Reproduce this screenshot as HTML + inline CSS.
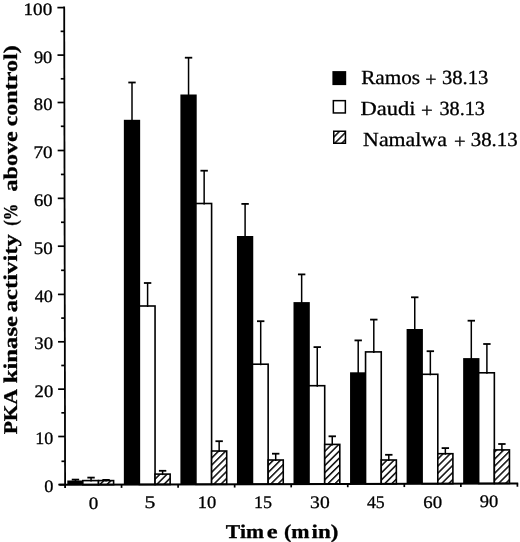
<!DOCTYPE html>
<html><head><meta charset="utf-8"><style>
html,body{margin:0;padding:0;background:#fff;}
svg{display:block;will-change:transform;}
text{font-family:"Liberation Serif",serif;fill:#000;white-space:pre;text-rendering:geometricPrecision;stroke:#000;stroke-width:0.3px;}
.tk{font-size:17.6px;}
.lg{font-size:20px;}
.al{font-size:19.5px;font-weight:bold;}
</style></head><body>
<svg width="520" height="542" viewBox="0 0 520 542">
<defs>
<pattern id="hatch" patternUnits="userSpaceOnUse" width="10" height="5.02" patternTransform="rotate(-45 0 0)">
<rect width="10" height="5.02" fill="#fff"/>
<rect x="0" y="0.9" width="10" height="1.45" fill="#000"/>
</pattern>
</defs>
<rect width="520" height="542" fill="#fff"/>
<rect x="67.30" y="480.50" width="16.30" height="4.22" fill="#000"/>
<rect x="82.80" y="480.60" width="15.70" height="4.08" fill="#fff" stroke="#000" stroke-width="1.6"/>
<rect x="98.50" y="480.60" width="15.10" height="4.03" fill="url(#hatch)" stroke="#000" stroke-width="1.6"/>
<rect x="123.85" y="119.80" width="16.30" height="364.76" fill="#000"/>
<rect x="139.35" y="306.00" width="15.70" height="178.51" fill="#fff" stroke="#000" stroke-width="1.6"/>
<rect x="155.05" y="474.10" width="15.10" height="10.37" fill="url(#hatch)" stroke="#000" stroke-width="1.6"/>
<rect x="180.40" y="94.50" width="16.30" height="389.89" fill="#000"/>
<rect x="195.90" y="203.50" width="15.70" height="280.85" fill="#fff" stroke="#000" stroke-width="1.6"/>
<rect x="211.60" y="451.00" width="15.10" height="33.30" fill="url(#hatch)" stroke="#000" stroke-width="1.6"/>
<rect x="236.95" y="236.00" width="16.30" height="248.23" fill="#000"/>
<rect x="252.45" y="364.20" width="15.70" height="119.98" fill="#fff" stroke="#000" stroke-width="1.6"/>
<rect x="268.15" y="460.00" width="15.10" height="24.14" fill="url(#hatch)" stroke="#000" stroke-width="1.6"/>
<rect x="293.50" y="302.10" width="16.30" height="181.96" fill="#000"/>
<rect x="309.00" y="385.70" width="15.70" height="98.32" fill="#fff" stroke="#000" stroke-width="1.6"/>
<rect x="324.70" y="444.40" width="15.10" height="39.57" fill="url(#hatch)" stroke="#000" stroke-width="1.6"/>
<rect x="350.05" y="372.30" width="16.30" height="111.60" fill="#000"/>
<rect x="365.55" y="351.90" width="15.70" height="131.96" fill="#fff" stroke="#000" stroke-width="1.6"/>
<rect x="381.25" y="460.00" width="15.10" height="23.81" fill="url(#hatch)" stroke="#000" stroke-width="1.6"/>
<rect x="406.60" y="329.00" width="16.30" height="154.74" fill="#000"/>
<rect x="422.10" y="374.30" width="15.70" height="109.39" fill="#fff" stroke="#000" stroke-width="1.6"/>
<rect x="437.80" y="453.70" width="15.10" height="29.95" fill="url(#hatch)" stroke="#000" stroke-width="1.6"/>
<rect x="463.15" y="358.10" width="16.30" height="125.47" fill="#000"/>
<rect x="478.65" y="372.80" width="15.70" height="110.73" fill="#fff" stroke="#000" stroke-width="1.6"/>
<rect x="494.35" y="449.90" width="15.10" height="33.58" fill="url(#hatch)" stroke="#000" stroke-width="1.6"/>
<line x1="75.45" y1="479.60" x2="75.45" y2="481.50" stroke="#000" stroke-width="1.5"/>
<line x1="71.75" y1="479.60" x2="79.15" y2="479.60" stroke="#000" stroke-width="1.8"/>
<line x1="91.05" y1="477.60" x2="91.05" y2="481.60" stroke="#000" stroke-width="1.5"/>
<line x1="87.35" y1="477.60" x2="94.75" y2="477.60" stroke="#000" stroke-width="1.8"/>
<line x1="106.05" y1="479.90" x2="106.05" y2="481.60" stroke="#000" stroke-width="1.5"/>
<line x1="102.35" y1="479.90" x2="109.75" y2="479.90" stroke="#000" stroke-width="1.8"/>
<line x1="132.00" y1="82.50" x2="132.00" y2="120.80" stroke="#000" stroke-width="1.5"/>
<line x1="128.30" y1="82.50" x2="135.70" y2="82.50" stroke="#000" stroke-width="1.8"/>
<line x1="147.60" y1="283.00" x2="147.60" y2="307.00" stroke="#000" stroke-width="1.5"/>
<line x1="143.90" y1="283.00" x2="151.30" y2="283.00" stroke="#000" stroke-width="1.8"/>
<line x1="162.60" y1="470.80" x2="162.60" y2="475.10" stroke="#000" stroke-width="1.5"/>
<line x1="158.90" y1="470.80" x2="166.30" y2="470.80" stroke="#000" stroke-width="1.8"/>
<line x1="188.55" y1="57.70" x2="188.55" y2="95.50" stroke="#000" stroke-width="1.5"/>
<line x1="184.85" y1="57.70" x2="192.25" y2="57.70" stroke="#000" stroke-width="1.8"/>
<line x1="204.15" y1="170.70" x2="204.15" y2="204.50" stroke="#000" stroke-width="1.5"/>
<line x1="200.45" y1="170.70" x2="207.85" y2="170.70" stroke="#000" stroke-width="1.8"/>
<line x1="219.15" y1="441.20" x2="219.15" y2="452.00" stroke="#000" stroke-width="1.5"/>
<line x1="215.45" y1="441.20" x2="222.85" y2="441.20" stroke="#000" stroke-width="1.8"/>
<line x1="245.10" y1="203.90" x2="245.10" y2="237.00" stroke="#000" stroke-width="1.5"/>
<line x1="241.40" y1="203.90" x2="248.80" y2="203.90" stroke="#000" stroke-width="1.8"/>
<line x1="260.70" y1="321.20" x2="260.70" y2="365.20" stroke="#000" stroke-width="1.5"/>
<line x1="257.00" y1="321.20" x2="264.40" y2="321.20" stroke="#000" stroke-width="1.8"/>
<line x1="275.70" y1="453.70" x2="275.70" y2="461.00" stroke="#000" stroke-width="1.5"/>
<line x1="272.00" y1="453.70" x2="279.40" y2="453.70" stroke="#000" stroke-width="1.8"/>
<line x1="301.65" y1="274.40" x2="301.65" y2="303.10" stroke="#000" stroke-width="1.5"/>
<line x1="297.95" y1="274.40" x2="305.35" y2="274.40" stroke="#000" stroke-width="1.8"/>
<line x1="317.25" y1="347.10" x2="317.25" y2="386.70" stroke="#000" stroke-width="1.5"/>
<line x1="313.55" y1="347.10" x2="320.95" y2="347.10" stroke="#000" stroke-width="1.8"/>
<line x1="332.25" y1="436.30" x2="332.25" y2="445.40" stroke="#000" stroke-width="1.5"/>
<line x1="328.55" y1="436.30" x2="335.95" y2="436.30" stroke="#000" stroke-width="1.8"/>
<line x1="358.20" y1="340.40" x2="358.20" y2="373.30" stroke="#000" stroke-width="1.5"/>
<line x1="354.50" y1="340.40" x2="361.90" y2="340.40" stroke="#000" stroke-width="1.8"/>
<line x1="373.80" y1="319.60" x2="373.80" y2="352.90" stroke="#000" stroke-width="1.5"/>
<line x1="370.10" y1="319.60" x2="377.50" y2="319.60" stroke="#000" stroke-width="1.8"/>
<line x1="388.80" y1="454.80" x2="388.80" y2="461.00" stroke="#000" stroke-width="1.5"/>
<line x1="385.10" y1="454.80" x2="392.50" y2="454.80" stroke="#000" stroke-width="1.8"/>
<line x1="414.75" y1="297.30" x2="414.75" y2="330.00" stroke="#000" stroke-width="1.5"/>
<line x1="411.05" y1="297.30" x2="418.45" y2="297.30" stroke="#000" stroke-width="1.8"/>
<line x1="430.35" y1="351.20" x2="430.35" y2="375.30" stroke="#000" stroke-width="1.5"/>
<line x1="426.65" y1="351.20" x2="434.05" y2="351.20" stroke="#000" stroke-width="1.8"/>
<line x1="445.35" y1="448.10" x2="445.35" y2="454.70" stroke="#000" stroke-width="1.5"/>
<line x1="441.65" y1="448.10" x2="449.05" y2="448.10" stroke="#000" stroke-width="1.8"/>
<line x1="471.30" y1="320.70" x2="471.30" y2="359.10" stroke="#000" stroke-width="1.5"/>
<line x1="467.60" y1="320.70" x2="475.00" y2="320.70" stroke="#000" stroke-width="1.8"/>
<line x1="486.90" y1="344.00" x2="486.90" y2="373.80" stroke="#000" stroke-width="1.5"/>
<line x1="483.20" y1="344.00" x2="490.60" y2="344.00" stroke="#000" stroke-width="1.8"/>
<line x1="501.90" y1="444.00" x2="501.90" y2="450.90" stroke="#000" stroke-width="1.5"/>
<line x1="498.20" y1="444.00" x2="505.60" y2="444.00" stroke="#000" stroke-width="1.8"/>
<line x1="64.19" y1="6.6" x2="65.11" y2="488" stroke="#000" stroke-width="1.8"/>
<line x1="59.3" y1="484.77" x2="518.2" y2="483.44" stroke="#000" stroke-width="2"/>
<line x1="58.30" y1="484.60" x2="65.10" y2="484.60" stroke="#000" stroke-width="1.7"/>
<line x1="61.46" y1="461.30" x2="65.06" y2="461.30" stroke="#000" stroke-width="1.7"/>
<line x1="58.21" y1="436.50" x2="65.01" y2="436.50" stroke="#000" stroke-width="1.7"/>
<line x1="61.36" y1="412.82" x2="64.96" y2="412.82" stroke="#000" stroke-width="1.7"/>
<line x1="58.12" y1="389.15" x2="64.92" y2="389.15" stroke="#000" stroke-width="1.7"/>
<line x1="61.27" y1="365.48" x2="64.87" y2="365.48" stroke="#000" stroke-width="1.7"/>
<line x1="58.03" y1="341.80" x2="64.83" y2="341.80" stroke="#000" stroke-width="1.7"/>
<line x1="61.18" y1="318.10" x2="64.78" y2="318.10" stroke="#000" stroke-width="1.7"/>
<line x1="57.94" y1="294.40" x2="64.74" y2="294.40" stroke="#000" stroke-width="1.7"/>
<line x1="61.09" y1="270.30" x2="64.69" y2="270.30" stroke="#000" stroke-width="1.7"/>
<line x1="57.85" y1="246.20" x2="64.65" y2="246.20" stroke="#000" stroke-width="1.7"/>
<line x1="61.00" y1="222.27" x2="64.60" y2="222.27" stroke="#000" stroke-width="1.7"/>
<line x1="57.76" y1="198.35" x2="64.56" y2="198.35" stroke="#000" stroke-width="1.7"/>
<line x1="60.91" y1="174.43" x2="64.51" y2="174.43" stroke="#000" stroke-width="1.7"/>
<line x1="57.67" y1="150.50" x2="64.47" y2="150.50" stroke="#000" stroke-width="1.7"/>
<line x1="60.82" y1="126.30" x2="64.42" y2="126.30" stroke="#000" stroke-width="1.7"/>
<line x1="57.57" y1="102.50" x2="64.37" y2="102.50" stroke="#000" stroke-width="1.7"/>
<line x1="60.73" y1="78.80" x2="64.33" y2="78.80" stroke="#000" stroke-width="1.7"/>
<line x1="57.48" y1="55.10" x2="64.28" y2="55.10" stroke="#000" stroke-width="1.7"/>
<line x1="60.64" y1="31.35" x2="64.24" y2="31.35" stroke="#000" stroke-width="1.7"/>
<line x1="57.39" y1="7.60" x2="64.19" y2="7.60" stroke="#000" stroke-width="1.7"/>
<line x1="121.55" y1="484.59" x2="121.55" y2="487.89" stroke="#000" stroke-width="1.7"/>
<line x1="178.10" y1="484.42" x2="178.10" y2="487.72" stroke="#000" stroke-width="1.7"/>
<line x1="234.65" y1="484.26" x2="234.65" y2="487.56" stroke="#000" stroke-width="1.7"/>
<line x1="291.20" y1="484.09" x2="291.20" y2="487.39" stroke="#000" stroke-width="1.7"/>
<line x1="347.75" y1="483.93" x2="347.75" y2="487.23" stroke="#000" stroke-width="1.7"/>
<line x1="404.30" y1="483.77" x2="404.30" y2="487.07" stroke="#000" stroke-width="1.7"/>
<line x1="460.85" y1="483.60" x2="460.85" y2="486.90" stroke="#000" stroke-width="1.7"/>
<line x1="517.40" y1="483.44" x2="517.40" y2="486.74" stroke="#000" stroke-width="1.7"/>
<rect x="332.4" y="71.1" width="13.8" height="14.0" fill="#000"/>
<rect x="333.35" y="100.65" width="12.0" height="12.3" fill="#fff" stroke="#000" stroke-width="1.5"/>
<rect x="333.75" y="131.25" width="11.7" height="12.0" fill="url(#hatch)" stroke="#000" stroke-width="1.5"/>
<text x="44.37" y="492.20" class="tk" textLength="9.17" lengthAdjust="spacingAndGlyphs">0</text>
<text x="35.34" y="444.10" class="tk" textLength="18.05" lengthAdjust="spacingAndGlyphs">10</text>
<text x="34.58" y="396.75" class="tk" textLength="18.69" lengthAdjust="spacingAndGlyphs">20</text>
<text x="34.35" y="349.40" class="tk" textLength="18.79" lengthAdjust="spacingAndGlyphs">30</text>
<text x="34.78" y="302.00" class="tk" textLength="18.19" lengthAdjust="spacingAndGlyphs">40</text>
<text x="33.87" y="253.80" class="tk" textLength="19.00" lengthAdjust="spacingAndGlyphs">50</text>
<text x="34.03" y="205.95" class="tk" textLength="18.69" lengthAdjust="spacingAndGlyphs">60</text>
<text x="33.49" y="158.10" class="tk" textLength="19.11" lengthAdjust="spacingAndGlyphs">70</text>
<text x="33.85" y="110.10" class="tk" textLength="18.59" lengthAdjust="spacingAndGlyphs">80</text>
<text x="33.90" y="62.70" class="tk" textLength="18.39" lengthAdjust="spacingAndGlyphs">90</text>
<text x="23.50" y="15.20" class="tk" textLength="28.69" lengthAdjust="spacingAndGlyphs">100</text>
<text x="88.74" y="508.52" class="tk" textLength="9.52" lengthAdjust="spacingAndGlyphs">0</text>
<text x="144.50" y="508.35" class="tk" textLength="10.87" lengthAdjust="spacingAndGlyphs">5</text>
<text x="197.73" y="508.19" class="tk" textLength="18.51" lengthAdjust="spacingAndGlyphs">10</text>
<text x="254.08" y="508.02" class="tk" textLength="18.05" lengthAdjust="spacingAndGlyphs">15</text>
<text x="310.12" y="507.86" class="tk" textLength="19.56" lengthAdjust="spacingAndGlyphs">30</text>
<text x="366.94" y="507.70" class="tk" textLength="17.77" lengthAdjust="spacingAndGlyphs">45</text>
<text x="423.35" y="507.53" class="tk" textLength="18.80" lengthAdjust="spacingAndGlyphs">60</text>
<text x="479.65" y="507.37" class="tk" textLength="18.49" lengthAdjust="spacingAndGlyphs">90</text>
<text x="361.16" y="84.20" class="lg" textLength="58.94" lengthAdjust="spacingAndGlyphs">Ramos</text>
<text x="425.30" y="86.00" class="lg" textLength="11.28" lengthAdjust="spacingAndGlyphs">+</text>
<text x="441.97" y="84.20" class="lg" textLength="46.46" lengthAdjust="spacingAndGlyphs">38.13</text>
<text x="360.53" y="115.00" class="lg" textLength="54.90" lengthAdjust="spacingAndGlyphs">Daudi</text>
<text x="421.06" y="116.80" class="lg" textLength="11.76" lengthAdjust="spacingAndGlyphs">+</text>
<text x="439.49" y="115.00" class="lg" textLength="45.42" lengthAdjust="spacingAndGlyphs">38.13</text>
<text x="363.14" y="145.90" class="lg" textLength="83.71" lengthAdjust="spacingAndGlyphs">Namalwa</text>
<text x="454.07" y="147.70" class="lg" textLength="11.64" lengthAdjust="spacingAndGlyphs">+</text>
<text x="470.76" y="145.90" class="lg" textLength="46.88" lengthAdjust="spacingAndGlyphs">38.13</text>
<text x="225.88" y="538.20" class="al" textLength="38.05" lengthAdjust="spacingAndGlyphs">Tim</text>
<text x="266.75" y="538.20" class="al" textLength="10.84" lengthAdjust="spacingAndGlyphs">e</text>
<text x="283.91" y="538.20" class="al" textLength="25.54" lengthAdjust="spacingAndGlyphs">(m</text>
<text x="311.54" y="538.20" class="al" textLength="26.82" lengthAdjust="spacingAndGlyphs">in)</text>
<text transform="translate(16.80,0) rotate(-90)" x="-434.32" y="0" class="al" textLength="45.25" lengthAdjust="spacingAndGlyphs">PKA</text>
<text transform="translate(16.80,0) rotate(-90)" x="-383.22" y="0" class="al" textLength="67.21" lengthAdjust="spacingAndGlyphs">kinase</text>
<text transform="translate(16.80,0) rotate(-90)" x="-312.24" y="0" class="al" textLength="78.10" lengthAdjust="spacingAndGlyphs">activity</text>
<text transform="translate(16.80,0) rotate(-90)" x="-225.84" y="0" class="al" textLength="21.98" lengthAdjust="spacingAndGlyphs">(%</text>
<text transform="translate(16.80,0) rotate(-90)" x="-191.42" y="0" class="al" textLength="59.92" lengthAdjust="spacingAndGlyphs">above</text>
<text transform="translate(16.80,0) rotate(-90)" x="-126.34" y="0" class="al" textLength="81.01" lengthAdjust="spacingAndGlyphs">control)</text>
</svg>
</body></html>
